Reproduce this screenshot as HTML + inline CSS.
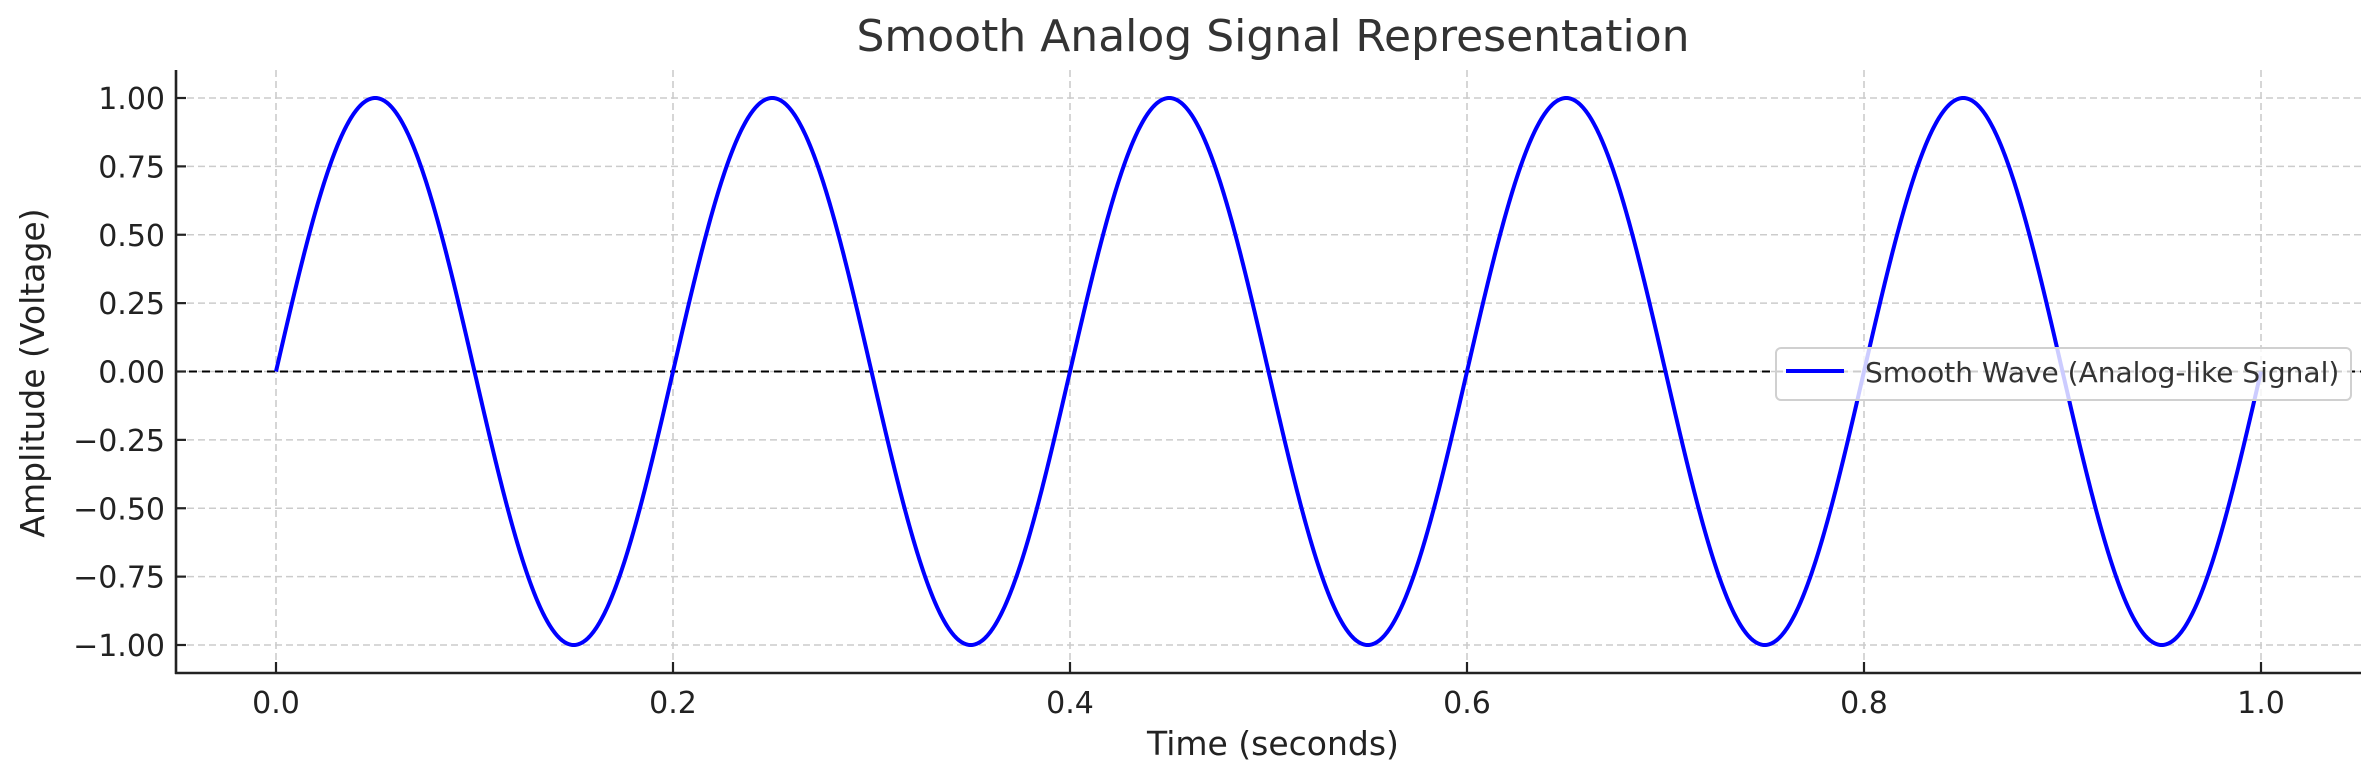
<!DOCTYPE html><html><head><style>body{margin:0;background:#fff}svg{display:block;font-family:"DejaVu Sans","Liberation Sans",sans-serif}</style></head><body>
<svg id="s" width="2379" height="780" xmlns="http://www.w3.org/2000/svg">
<g id="grid" stroke="#cccccc" stroke-width="1.6" stroke-dasharray="7,4"></g>
<line x1="176" x2="2361" y1="371.5" y2="371.5" stroke="#000" stroke-width="2" stroke-dasharray="8,5"/>
<path id="w" fill="none" stroke="#0000ff" stroke-width="4"/>
<g stroke="#222" stroke-width="2.6"><line x1="176" y1="70" x2="176" y2="674"/><line x1="175" y1="673" x2="2361" y2="673"/></g>
<g id="ticks" stroke="#222" stroke-width="2.2"></g>
<g id="lab" font-size="30" fill="#222"></g>
<text x="1273" y="51" font-size="44" text-anchor="middle" fill="#333">Smooth Analog Signal Representation</text>
<text x="1273" y="755" font-size="33" text-anchor="middle" fill="#222">Time (seconds)</text>
<text transform="translate(44,373) rotate(-90)" font-size="33" text-anchor="middle" fill="#222">Amplitude (Voltage)</text>
<rect x="1776" y="348" width="575" height="52" rx="5" fill="#fff" fill-opacity="0.8" stroke="#d0d0d0" stroke-width="2"/>
<line x1="1786" x2="1844" y1="371" y2="371" stroke="#0000ff" stroke-width="4"/>
<text x="1865" y="382" font-size="28" fill="#333">Smooth Wave (Analog-like Signal)</text>
</svg>
<script>
var X=t=>276+t*1985,Y=v=>371.5-v*273.5,ns="http://www.w3.org/2000/svg";
function el(p,n,a,txt){var e=document.createElementNS(ns,n);for(var k in a)e.setAttribute(k,a[k]);if(txt)e.textContent=txt;document.getElementById(p).appendChild(e);}
var d="";for(var i=0;i<=2000;i++){var t=i/2000;d+=(i?"L":"M")+X(t).toFixed(2)+","+Y(Math.sin(2*Math.PI*5*t)).toFixed(2);}
document.getElementById("w").setAttribute("d",d);
for(var i=0;i<=5;i++){var x=X(i*0.2);el("grid","line",{x1:x,x2:x,y1:70,y2:673});el("ticks","line",{x1:x,x2:x,y1:673,y2:662});el("lab","text",{x:x,y:713,"text-anchor":"middle"},(i*0.2).toFixed(1));}
for(var j=-4;j<=4;j++){var v=j*0.25,y=Y(v);el("grid","line",{x1:176,x2:2361,y1:y,y2:y});el("ticks","line",{x1:176,x2:186,y1:y,y2:y});el("lab","text",{x:165,y:y+11,"text-anchor":"end"},(v<0?"\u2212":"")+Math.abs(v).toFixed(2));}
</script>
</body></html>
